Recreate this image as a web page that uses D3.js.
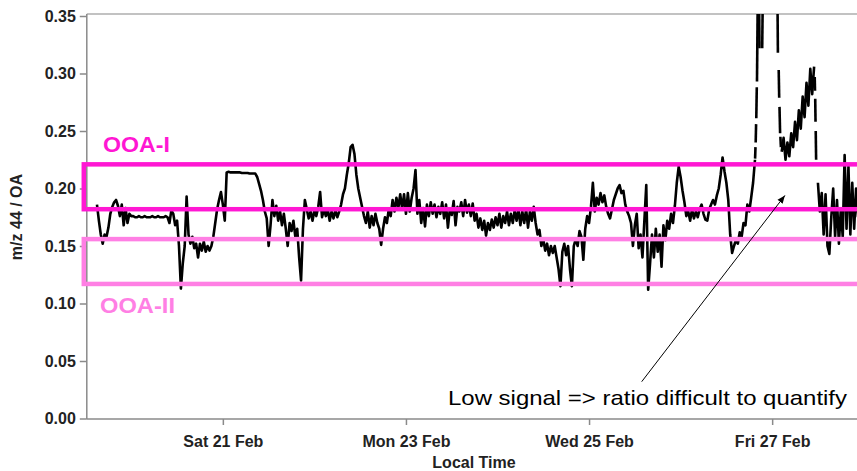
<!DOCTYPE html>
<html>
<head>
<meta charset="utf-8">
<script src="https://cdn.jsdelivr.net/npm/d3@7"></script>
<style>
  html, body { margin: 0; padding: 0; background: #ffffff; }
  svg { display: block; }
  text { font-family: "Liberation Sans", Arial, Helvetica, sans-serif; }
</style>
</head>
<body>
<svg id="chart" width="857" height="471"></svg>
<script>
// m/z 44 / OA ratio, half-hourly averages from Thu 19 Feb 2009 15:00 local time
const seriesStart = "2009-02-19T15:00";
const seriesStepMinutes = 30;
const ratio = [
  0.186,0.172,0.160,0.152,0.160,0.158,0.166,0.178,0.184,0.188,
  0.190,0.185,0.176,0.186,0.168,0.183,0.170,0.178,0.176,0.176,
  0.175,0.175,0.176,0.175,0.175,0.176,0.175,0.175,0.175,0.176,
  0.175,0.175,0.176,0.175,0.175,0.175,0.176,0.175,0.170,0.181,
  0.178,0.168,0.172,0.150,0.113,0.135,0.150,0.193,0.160,0.152,
  0.158,0.148,0.152,0.140,0.152,0.146,0.154,0.145,0.150,0.146,
  0.150,0.158,0.170,0.182,0.190,0.197,0.186,0.172,0.214,0.2145,
  0.214,0.214,0.214,0.214,0.214,0.214,0.2135,0.2135,0.2135,0.2135,
  0.213,0.213,0.213,0.213,0.210,0.204,0.198,0.190,0.180,0.174,
  0.150,0.168,0.190,0.176,0.185,0.172,0.180,0.168,0.178,0.165,
  0.150,0.170,0.163,0.172,0.158,0.165,0.140,0.120,0.165,0.190,
  0.182,0.174,0.180,0.172,0.181,0.176,0.184,0.197,0.175,0.182,
  0.176,0.182,0.172,0.180,0.174,0.181,0.175,0.180,0.186,0.195,
  0.200,0.212,0.222,0.236,0.238,0.230,0.212,0.200,0.192,0.184,
  0.176,0.170,0.180,0.166,0.176,0.168,0.178,0.170,0.165,0.151,
  0.165,0.175,0.170,0.182,0.176,0.190,0.180,0.192,0.183,0.195,
  0.182,0.195,0.178,0.196,0.180,0.192,0.200,0.216,0.178,0.190,
  0.170,0.183,0.167,0.186,0.176,0.188,0.178,0.186,0.175,0.184,
  0.178,0.188,0.174,0.186,0.166,0.182,0.177,0.189,0.168,0.184,
  0.180,0.188,0.176,0.190,0.179,0.186,0.176,0.187,0.172,0.178,
  0.166,0.174,0.164,0.172,0.159,0.170,0.164,0.173,0.166,0.175,
  0.168,0.178,0.166,0.176,0.170,0.180,0.168,0.178,0.170,0.181,
  0.172,0.182,0.168,0.180,0.170,0.182,0.166,0.180,0.172,0.184,
  0.170,0.160,0.164,0.150,0.156,0.146,0.152,0.142,0.150,0.144,
  0.150,0.140,0.130,0.115,0.145,0.152,0.142,0.150,0.130,0.115,
  0.150,0.156,0.150,0.163,0.158,0.138,0.165,0.176,0.170,0.184,
  0.205,0.180,0.192,0.186,0.196,0.188,0.194,0.184,0.178,0.174,
  0.182,0.190,0.195,0.200,0.203,0.196,0.198,0.186,0.180,0.176,
  0.170,0.150,0.168,0.178,0.148,0.160,0.140,0.172,0.203,0.112,
  0.135,0.160,0.140,0.165,0.145,0.160,0.132,0.168,0.155,0.172,
  0.165,0.178,0.170,0.185,0.205,0.219,0.210,0.198,0.188,0.176,
  0.180,0.172,0.182,0.174,0.180,0.175,0.182,0.186,0.178,0.173,
  0.172,0.182,0.186,0.190,0.186,0.194,0.200,0.212,0.227,0.215,
  0.205,0.190,0.160,0.144,0.150,0.155,0.152,0.162,0.158,0.170,
  0.168,0.186,0.180,0.192,0.205,0.225,null,null,null,null,
  null,null,null,null,null,null,null,null,null,0.232,
  0.244,0.225,0.240,0.228,0.248,0.236,0.258,0.242,0.268,0.252,
  0.280,0.262,0.292,0.272,0.304,0.282,0.306,null,0.205,0.180,
  0.196,0.160,0.195,0.150,0.143,0.175,0.200,0.158,0.190,0.152,
  0.182,0.158,0.229,0.165,0.219,0.160,0.205,0.165,0.200,0.175
];

// Sparse readings where the OA signal is low: short traces (day of February 2009, ratio)
const lowSignalDays = [
  [26.8137, 26.8180], [26.8202, 26.8246], [26.8268, 26.8322], [26.8344, 26.8421],
  [26.8574, 26.8617], [26.8913, 26.8967],
  [27.0585, 27.0628], [27.0716, 27.0770], [27.0803, 27.0869], [27.0902, 27.0956],
  [27.4650, 27.4683], [27.4705, 27.4738], [27.4760, 27.4803]
];
const lowSignalRatios = [
  [0.226, 0.236], [0.240, 0.256], [0.261, 0.288], [0.293, 0.360],
  [0.360, 0.322], [0.322, 0.360],
  [0.360, 0.318], [0.303, 0.279], [0.271, 0.248], [0.245, 0.236],
  [0.297, 0.285], [0.278, 0.258], [0.250, 0.225]
];

// Typical ratio ranges of the two oxygenated OA factors
const factorNames = ["OOA-I", "OOA-II"];
const factorLow = [0.182, 0.117];
const factorHigh = [0.221, 0.156];
const factorColors = ["#ff17d3", "#ff7fe4"];

const yTicks = [0.00, 0.05, 0.10, 0.15, 0.20, 0.25, 0.30, 0.35];
const xTicks = ["2009-02-21", "2009-02-23", "2009-02-25", "2009-02-27"];
const xDomain = ["2009-02-19T12:20", "2009-02-28T00:00"];
const yTitle = "m/z 44 / OA";
const xTitle = "Local Time";
const noteText = "Low signal => ratio difficult to quantify";

// ---- drawing ----
const W = 857, H = 471;
const plot = { left: 86.8, right: 863.7, top: 14, bottom: 419 };
const parseTime = d3.timeParse("%Y-%m-%dT%H:%M");
const parseDay = d3.timeParse("%Y-%m-%d");
const febDay = d => new Date(new Date(2009, 1, 1).getTime() + (d - 1) * 864e5);

const x = d3.scaleTime().domain(xDomain.map(parseTime)).range([plot.left, plot.right]);
const y = d3.scaleLinear().domain([0, 0.35]).range([418.5, 16]);

const svg = d3.select("#chart");
const defs = svg.append("defs");
defs.append("clipPath").attr("id", "plot-clip")
  .append("rect")
  .attr("x", plot.left).attr("y", plot.top)
  .attr("width", plot.right - plot.left).attr("height", plot.bottom - plot.top);
defs.append("marker")
  .attr("id", "arrowhead").attr("viewBox", "0 0 10 10")
  .attr("refX", 10).attr("refY", 5)
  .attr("markerWidth", 8).attr("markerHeight", 8)
  .attr("orient", "auto")
  .append("path").attr("d", "M0,1 L10,5 L0,9 Z").attr("fill", "#000");

// frame
svg.append("line")
  .attr("x1", plot.left).attr("x2", W).attr("y1", plot.top).attr("y2", plot.top)
  .attr("stroke", "#c2c2c2").attr("stroke-width", 2);
svg.append("line")
  .attr("x1", plot.left).attr("x2", plot.left).attr("y1", plot.top).attr("y2", plot.bottom)
  .attr("stroke", "#8a8a8a").attr("stroke-width", 1.5);
svg.append("line")
  .attr("x1", plot.left).attr("x2", W).attr("y1", plot.bottom).attr("y2", plot.bottom)
  .attr("stroke", "#8a8a8a").attr("stroke-width", 1.5);

// axes
const yAxis = svg.append("g")
  .attr("transform", `translate(${plot.left},0)`)
  .call(d3.axisLeft(y).tickValues(yTicks).tickFormat(d3.format(".2f"))
    .tickSize(7).tickSizeOuter(0).tickPadding(4));
const xAxis = svg.append("g")
  .attr("transform", `translate(0,${plot.bottom})`)
  .call(d3.axisBottom(x).tickValues(xTicks.map(parseDay)).tickFormat(d3.timeFormat("%a %d %b"))
    .tickSize(6).tickSizeOuter(0).tickPadding(11));
[yAxis, xAxis].forEach(g => {
  g.select(".domain").remove();
  g.selectAll(".tick line").attr("stroke", "#8a8a8a").attr("stroke-width", 1.5);
  g.selectAll(".tick text")
    .attr("fill", "#222").style("font-size", "16px").style("font-weight", "bold");
});

// series
const points = ratio.map((v, i) => ({
  t: d3.timeMinute.offset(parseTime(seriesStart), i * seriesStepMinutes), v
}));
const line = d3.line()
  .defined(d => d.v !== null)
  .x(d => x(d.t)).y(d => y(d.v));

const traces = svg.append("g").attr("clip-path", "url(#plot-clip)");
traces.append("path")
  .datum(points)
  .attr("d", line)
  .attr("fill", "none").attr("stroke", "#000").attr("stroke-width", 2.6)
  .attr("stroke-linejoin", "round");
traces.selectAll("path.low")
  .data(lowSignalDays.map((days, k) => days.map((d, j) => ({ t: febDay(d), v: lowSignalRatios[k][j] }))))
  .join("path").attr("class", "low")
  .attr("d", line)
  .attr("fill", "none").attr("stroke", "#000").attr("stroke-width", 2.6);

// factor ranges
factorNames.forEach((name, k) => {
  const top = y(factorHigh[k]), bottom = y(factorLow[k]);
  svg.append("rect")
    .attr("x", plot.left - 3).attr("y", top)
    .attr("width", W - plot.left + 20).attr("height", bottom - top)
    .attr("fill", "none").attr("stroke", factorColors[k]).attr("stroke-width", 4.5);
  svg.append("text")
    .attr("x", k === 0 ? 103 : 100)
    .attr("y", k === 0 ? top - 12 : bottom + 29)
    .attr("fill", factorColors[k])
    .attr("textLength", k === 0 ? 67 : 75).attr("lengthAdjust", "spacingAndGlyphs")
    .style("font-size", "22px").style("font-weight", "bold")
    .text(name);
});

// axis titles
svg.append("text")
  .attr("transform", "translate(22,217) rotate(-90)")
  .attr("text-anchor", "middle").attr("fill", "#222")
  .style("font-size", "16px").style("font-weight", "bold")
  .text(yTitle);
svg.append("text")
  .attr("x", 474).attr("y", 468)
  .attr("text-anchor", "middle").attr("fill", "#222")
  .style("font-size", "16px").style("font-weight", "bold")
  .text(xTitle);

// note with arrow
svg.append("line")
  .attr("x1", x(parseTime("2009-02-25T13:48"))).attr("y1", y(0.032))
  .attr("x2", x(parseTime("2009-02-27T03:21"))).attr("y2", y(0.194))
  .attr("stroke", "#000").attr("stroke-width", 1)
  .attr("marker-end", "url(#arrowhead)");
svg.append("text")
  .attr("x", 448).attr("y", 405)
  .attr("fill", "#000")
  .attr("textLength", 399).attr("lengthAdjust", "spacingAndGlyphs")
  .style("font-size", "21px")
  .text(noteText);
</script>
</body>
</html>
